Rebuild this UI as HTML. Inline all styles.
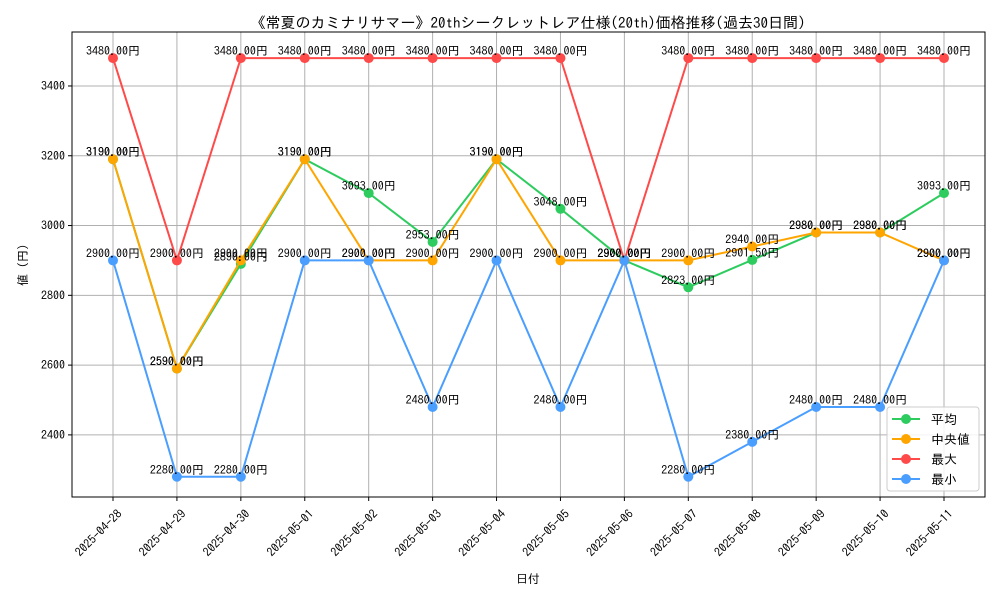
<!DOCTYPE html>
<html><head><meta charset="utf-8"><style>
body{margin:0;background:#fff}
svg text{font-family:"IPAGothic","Liberation Sans",sans-serif}
</style></head><body>
<svg id="chart" width="1000" height="600" xmlns="http://www.w3.org/2000/svg">
<rect width="1000" height="600" fill="#fff"/>
<text x="528" y="28" font-size="15" text-anchor="middle">《常夏のカミナリサマー》20thシークレットレア仕様(20th)価格推移(過去30日間)</text>
<g id="grid"></g><g id="series"></g><g id="labels"></g>
<rect x="72" y="32" width="913" height="465" fill="none" stroke="#000" stroke-width="1"/>
<g id="axes"></g>
<text x="528" y="583" font-size="12" text-anchor="middle">日付</text>
<text transform="translate(27,265) rotate(-90)" font-size="12" text-anchor="middle">値 (円)</text>
<g id="legend"></g>
</svg>
<script>
const dates=["2025-04-28","2025-04-29","2025-04-30","2025-05-01","2025-05-02","2025-05-03","2025-05-04","2025-05-05","2025-05-06","2025-05-07","2025-05-08","2025-05-09","2025-05-10","2025-05-11"];
const avgVals=[3190,2590,2890,3190,3093,2953,3190,3048,2900,2823,2901.5,2980,2980,3093];
const medVals=[3190,2590,2900,3190,2900,2900,3190,2900,2900,2900,2940,2980,2980,2900];
const maxVals=[3480,2900,3480,3480,3480,3480,3480,3480,2900,3480,3480,3480,3480,3480];
const minVals=[2900,2280,2280,2900,2900,2480,2900,2480,2900,2280,2380,2480,2480,2900];
const yTicks=[2400,2600,2800,3000,3200,3400];
const seriesNames=["平均","中央値","最大","最小"];
const NS="http://www.w3.org/2000/svg";
const X0=72,X1=985,Y0=32,Y1=497,ymin=2222,ymax=3554.7;
const xs=i=>113+i*(944-113)/(dates.length-1);
const ys=v=>Y1-(v-ymin)/(ymax-ymin)*(Y1-Y0);
function mk(t,a,p){const e=document.createElementNS(NS,t);for(const k in a)e.setAttribute(k,a[k]);p.appendChild(e);return e;}
const grid=document.getElementById('grid'),axes=document.getElementById('axes');
dates.forEach((d,i)=>{
 const g=mk('line',{x1:xs(i),x2:xs(i),y1:Y0,y2:Y1,stroke:'#b0b0b0','stroke-width':1},grid);
 
 mk('line',{x1:xs(i),x2:xs(i),y1:Y1,y2:Y1+4,stroke:'#000'},axes);
 const t=mk('text',{transform:`translate(${xs(i)+4},${Y1+12}) rotate(-45)`,'font-size':12,'text-anchor':'end','dominant-baseline':'hanging'},axes);
 t.textContent=d;
});
yTicks.forEach(v=>{
 const g=mk('line',{x1:X0,x2:X1,y1:ys(v),y2:ys(v),stroke:'#b0b0b0','stroke-width':1},grid);
 
 mk('line',{x1:X0-4,x2:X0,y1:ys(v),y2:ys(v),stroke:'#000'},axes);
 const t=mk('text',{x:X0-7,y:ys(v)+4,'font-size':12,'text-anchor':'end'},axes);
 t.textContent=v;
});
const all=[avgVals,medVals,maxVals,minVals],cols=["#2ecc5f","#ffa500","#ff4a4a","#4a9eff"],keys=["avg","median","max","min"];
const sg=document.getElementById('series'),lg=document.getElementById('labels');
all.forEach((vals,s)=>{
 const pl=mk('polyline',{points:vals.map((v,i)=>xs(i)+','+ys(v)).join(' '),fill:'none',stroke:cols[s],'stroke-width':2},sg);
 
 vals.forEach((v,i)=>{
  const c=mk('circle',{cx:xs(i),cy:ys(v),r:5,fill:cols[s]},sg);
  
  const t=mk('text',{x:xs(i),y:ys(v)-3,'font-size':12,'text-anchor':'middle'},lg);
  
  t.textContent=v.toFixed(2)+'円';
 });
});
const L=document.getElementById('legend');
const box=mk('rect',{x:887,y:407,width:92,height:84,rx:3,fill:'#fff','fill-opacity':0.85,stroke:'#ccc'},L);

seriesNames.forEach((n,s)=>{
 const y=419+s*20;
 const g=mk('g',{},L);
 mk('line',{x1:892,x2:920,y1:y,y2:y,stroke:cols[s],'stroke-width':2},g);
 mk('circle',{cx:906,cy:y,r:5,fill:cols[s]},g);
 const t=mk('text',{x:931,y:y+5,'font-size':13},g);t.textContent=n;
});
</script>
</body></html>
